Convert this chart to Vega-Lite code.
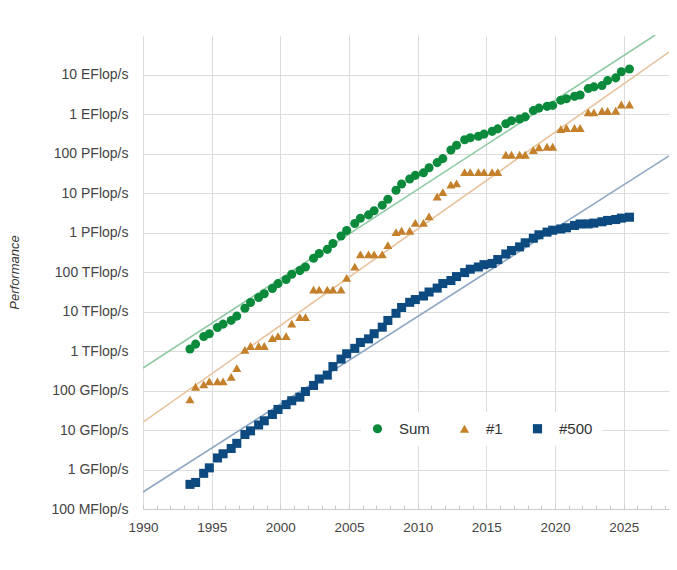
{
  "$schema": "https://vega.github.io/schema/vega-lite/v6.json",
  "width": 526,
  "height": 474,
  "autosize": {"type": "none"},
  "padding": {"left": 143, "top": 35, "right": 8, "bottom": 61},
  "background": "white",
  "config": {
    "view": {"stroke": null},
    "font": "Liberation Sans",
    "axis": {
      "gridColor": "#dcdcdc",
      "gridWidth": 1,
      "domainColor": "#cccccc",
      "tickColor": "#cccccc",
      "labelColor": "#444444",
      "labelFont": "Liberation Sans",
      "titleFont": "Liberation Sans"
    }
  },
  "datasets": {
    "lists": [
      {"t": 1993.42, "Sum": 1128.6, "#1": 59.7, "#500": 0.42},
      {"t": 1993.83, "Sum": 1493.4, "#1": 124.5, "#500": 0.47},
      {"t": 1994.42, "Sum": 2317, "#1": 143.4, "#500": 0.8},
      {"t": 1994.83, "Sum": 2732, "#1": 170.4, "#500": 1.1},
      {"t": 1995.42, "Sum": 3927, "#1": 170.4, "#500": 1.96},
      {"t": 1995.83, "Sum": 4784, "#1": 170.4, "#500": 2.5},
      {"t": 1996.42, "Sum": 5946, "#1": 220.4, "#500": 3.4},
      {"t": 1996.83, "Sum": 7646, "#1": 368.2, "#500": 4.6},
      {"t": 1997.42, "Sum": 12058, "#1": 1068, "#500": 7.7},
      {"t": 1997.83, "Sum": 16900, "#1": 1338, "#500": 9.5},
      {"t": 1998.42, "Sum": 22596, "#1": 1338, "#500": 13.4},
      {"t": 1998.83, "Sum": 28260, "#1": 1338, "#500": 17.1},
      {"t": 1999.42, "Sum": 38382, "#1": 2121, "#500": 24.7},
      {"t": 1999.83, "Sum": 50700, "#1": 2379, "#500": 33.1},
      {"t": 2000.42, "Sum": 64390, "#1": 2379, "#500": 43.8},
      {"t": 2000.83, "Sum": 88100, "#1": 4938, "#500": 55.1},
      {"t": 2001.42, "Sum": 108300, "#1": 7226, "#500": 67.8},
      {"t": 2001.83, "Sum": 134400, "#1": 7226, "#500": 94.3},
      {"t": 2002.42, "Sum": 222100, "#1": 35860, "#500": 134.3},
      {"t": 2002.83, "Sum": 293400, "#1": 35860, "#500": 195.8},
      {"t": 2003.42, "Sum": 374300, "#1": 35860, "#500": 245.1},
      {"t": 2003.83, "Sum": 528300, "#1": 35860, "#500": 403.4},
      {"t": 2004.42, "Sum": 813900, "#1": 35860, "#500": 624},
      {"t": 2004.83, "Sum": 1127000, "#1": 70720, "#500": 850.6},
      {"t": 2005.42, "Sum": 1690000, "#1": 136800, "#500": 1166},
      {"t": 2005.83, "Sum": 2300000, "#1": 280600, "#500": 1646},
      {"t": 2006.42, "Sum": 2790000, "#1": 280600, "#500": 2026},
      {"t": 2006.83, "Sum": 3540000, "#1": 280600, "#500": 2737},
      {"t": 2007.42, "Sum": 4920000, "#1": 280600, "#500": 4005},
      {"t": 2007.83, "Sum": 6970000, "#1": 478200, "#500": 5929},
      {"t": 2008.42, "Sum": 11700000, "#1": 1026000, "#500": 9000},
      {"t": 2008.83, "Sum": 16950000, "#1": 1105000, "#500": 12640},
      {"t": 2009.42, "Sum": 22600000, "#1": 1105000, "#500": 17090},
      {"t": 2009.83, "Sum": 27950000, "#1": 1759000, "#500": 20050},
      {"t": 2010.42, "Sum": 32400000, "#1": 1759000, "#500": 24670},
      {"t": 2010.83, "Sum": 43700000, "#1": 2566000, "#500": 31120},
      {"t": 2011.42, "Sum": 58800000, "#1": 8162000, "#500": 39090},
      {"t": 2011.83, "Sum": 74200000, "#1": 10510000, "#500": 50940},
      {"t": 2012.42, "Sum": 123000000, "#1": 16324750, "#500": 60820},
      {"t": 2012.83, "Sum": 162000000, "#1": 17590000, "#500": 76500},
      {"t": 2013.42, "Sum": 223000000, "#1": 33862700, "#500": 96620},
      {"t": 2013.83, "Sum": 250000000, "#1": 33862700, "#500": 117800},
      {"t": 2014.42, "Sum": 274000000, "#1": 33862700, "#500": 133700},
      {"t": 2014.83, "Sum": 309000000, "#1": 33862700, "#500": 153400},
      {"t": 2015.42, "Sum": 363000000, "#1": 33862700, "#500": 164800},
      {"t": 2015.83, "Sum": 420000000, "#1": 33862700, "#500": 206400},
      {"t": 2016.42, "Sum": 567000000, "#1": 93014600, "#500": 285900},
      {"t": 2016.83, "Sum": 672000000, "#1": 93014600, "#500": 349300},
      {"t": 2017.42, "Sum": 749000000, "#1": 93014600, "#500": 432200},
      {"t": 2017.83, "Sum": 845000000, "#1": 93014600, "#500": 548300},
      {"t": 2018.42, "Sum": 1220000000, "#1": 122300000, "#500": 715600},
      {"t": 2018.83, "Sum": 1410000000, "#1": 143500000, "#500": 874800},
      {"t": 2019.42, "Sum": 1560000000, "#1": 148600000, "#500": 1022000},
      {"t": 2019.83, "Sum": 1650000000, "#1": 148600000, "#500": 1142000},
      {"t": 2020.42, "Sum": 2220000000, "#1": 415530000, "#500": 1228000},
      {"t": 2020.83, "Sum": 2430000000, "#1": 442010000, "#500": 1317000},
      {"t": 2021.42, "Sum": 2790000000, "#1": 442010000, "#500": 1511000},
      {"t": 2021.83, "Sum": 3040000000, "#1": 442010000, "#500": 1646000},
      {"t": 2022.42, "Sum": 4400000000, "#1": 1102000000, "#500": 1650000},
      {"t": 2022.83, "Sum": 4860000000, "#1": 1102000000, "#500": 1730000},
      {"t": 2023.42, "Sum": 5240000000, "#1": 1194000000, "#500": 1870000},
      {"t": 2023.83, "Sum": 7010000000, "#1": 1194000000, "#500": 2020000},
      {"t": 2024.42, "Sum": 8210000000, "#1": 1206000000, "#500": 2130000},
      {"t": 2024.83, "Sum": 11720000000, "#1": 1742000000, "#500": 2310000},
      {"t": 2025.42, "Sum": 13840000000, "#1": 1742000000, "#500": 2440000}
    ],
    "trend": [
      {"series": "Sum", "t": 1990, "v": 372},
      {"series": "Sum", "t": 2027.3, "v": 100000000000},
      {"series": "#1", "t": 1990, "v": 15.8},
      {"series": "#1", "t": 2028.3, "v": 37000000000},
      {"series": "#500", "t": 1990, "v": 0.27},
      {"series": "#500", "t": 2028.3, "v": 87000000}
    ]
  },
  "layer": [
    {
      "data": {"name": "trend"},
      "transform": [{"filter": "datum.series === 'Sum'"}],
      "mark": {"type": "line", "strokeWidth": 1.6, "clip": true, "color": "#8fcaa5"},
      "encoding": {
        "x": {
          "field": "t",
          "type": "quantitative",
          "scale": {"domain": [1990, 2028.3], "nice": false, "zero": false},
          "axis": {
            "orient": "bottom",
            "values": [1991, 1992, 1993, 1994, 1996, 1997, 1998, 1999, 2001, 2002, 2003, 2004, 2006, 2007, 2008, 2009, 2011, 2012, 2013, 2014, 2016, 2017, 2018, 2019, 2021, 2022, 2023, 2024, 2026, 2027, 2028],
            "labels": false,
            "grid": false,
            "domain": false,
            "ticks": true,
            "tickSize": -4,
            "title": null
          }
        },
        "y": {
          "field": "v",
          "type": "quantitative",
          "scale": {"type": "log", "domain": [0.1, 100000000000], "nice": false}
        }
      }
    },
    {
      "data": {"name": "trend"},
      "transform": [{"filter": "datum.series === '#1'"}],
      "mark": {"type": "line", "strokeWidth": 1.6, "clip": true, "color": "#e8c29c"},
      "encoding": {
        "x": {"field": "t", "type": "quantitative", "axis": null},
        "y": {"field": "v", "type": "quantitative"}
      }
    },
    {
      "data": {"name": "trend"},
      "transform": [{"filter": "datum.series === '#500'"}],
      "mark": {"type": "line", "strokeWidth": 1.6, "clip": true, "color": "#8ea8c3"},
      "encoding": {
        "x": {"field": "t", "type": "quantitative", "axis": null},
        "y": {"field": "v", "type": "quantitative"}
      }
    },
    {
      "data": {"name": "lists"},
      "transform": [{"fold": ["Sum", "#1", "#500"], "as": ["series", "v"]}],
      "mark": {"type": "point", "filled": true, "opacity": 1, "size": 82},
      "encoding": {
        "x": {
          "field": "t",
          "type": "quantitative",
          "axis": {
            "orient": "bottom",
            "values": [1990, 1995, 2000, 2005, 2010, 2015, 2020, 2025],
            "format": "d",
            "grid": true,
            "domain": true,
            "ticks": true,
            "tickSize": -5,
            "labelFlush": false,
            "labelFontSize": 13.5,
            "labelPadding": 16,
            "title": null
          }
        },
        "y": {
          "field": "v",
          "type": "quantitative",
          "axis": {
            "values": [0.1, 1, 10, 100, 1000, 10000, 100000, 1000000, 10000000, 100000000, 1000000000, 10000000000],
            "labelExpr": "pow(10, (round(log(datum.value)/LN10)+9)%3) + ' ' + ['','k','M','G','T','P','E'][floor((round(log(datum.value)/LN10)+9)/3)] + 'Flop/s'",
            "grid": true,
            "domain": false,
            "ticks": false,
            "labelPadding": 15,
            "labelFontSize": 14,
            "title": "Performance",
            "titleFontSize": 13,
            "titleFontStyle": "italic",
            "titleFontWeight": "normal",
            "titleColor": "#333333",
            "titleX": -129,
            "titleY": 237,
            "titleAngle": 270,
            "titleAlign": "center",
            "titleBaseline": "middle"
          }
        },
        "color": {
          "field": "series",
          "type": "nominal",
          "scale": {"domain": ["Sum", "#1", "#500"], "range": ["#0b8a3b", "#c4802b", "#0c4a80"]},
          "legend": {
            "title": null,
            "orient": "none",
            "legendX": 218,
            "legendY": 377,
            "direction": "horizontal",
            "fillColor": "white",
            "padding": 9,
            "columnPadding": 27,
            "labelFontSize": 15,
            "labelColor": "#333333",
            "labelOffset": 14,
            "symbolSize": 85
          }
        },
        "shape": {
          "field": "series",
          "type": "nominal",
          "scale": {"domain": ["Sum", "#1", "#500"], "range": ["circle", "triangle-up", "square"]},
          "legend": {
            "title": null,
            "orient": "none",
            "legendX": 218,
            "legendY": 377,
            "direction": "horizontal",
            "fillColor": "white",
            "padding": 9,
            "columnPadding": 27,
            "labelFontSize": 15,
            "labelColor": "#333333",
            "labelOffset": 14,
            "symbolSize": 85
          }
        }
      }
    }
  ],
  "resolve": {"axis": {"x": "independent"}}
}
